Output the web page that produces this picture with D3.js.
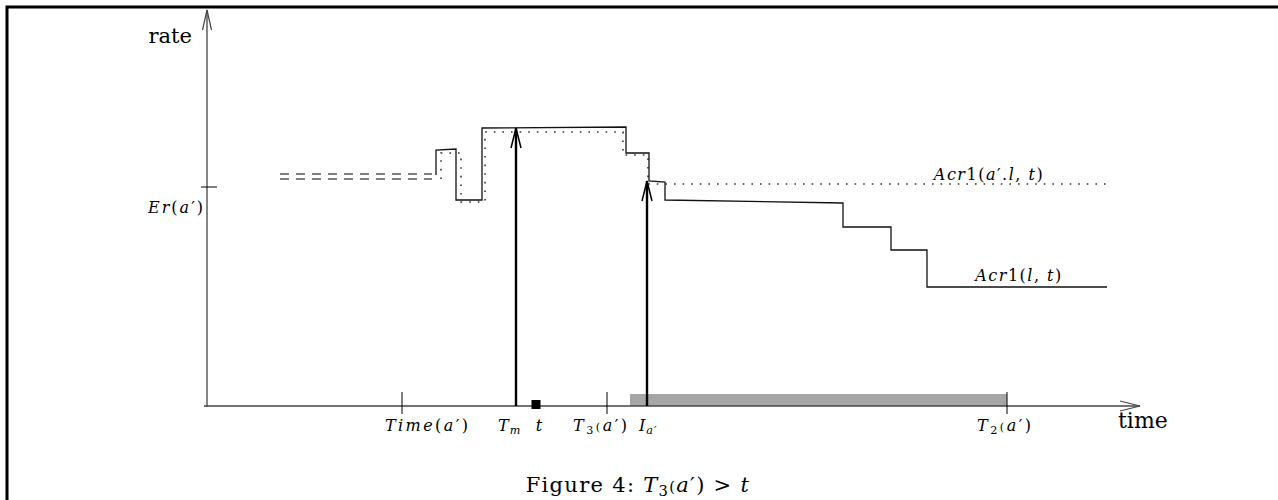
<!DOCTYPE html>
<html>
<head>
<meta charset="utf-8">
<script src="https://cdn.jsdelivr.net/npm/d3@7"></script>
<style>
  body { margin: 0; background: #fff; }
  svg text { font-family: "DejaVu Serif", "Liberation Serif", serif; }
  .mi { font-style: italic; }
</style>
</head>
<body>
<div id="chart"></div>
<script>
// step curve of Acr1(l,t) : [time, rate]
const solidSteps = [[229,231],[229,256],[249,257],[249,206],[275,206],[275,278],[419,279],[419,253],
  [442,253],[442,225],[458,224],[458,206],[636,203],[636,179],[684,179],[684,156],[720,156],[720,119],[900,119]];
// dotted curve of Acr1(a'.l,t)
const dottedSteps = [[234,227],[234,253],[254,253],[254,204],[278,204],[278,274],[416,274],[416,251],
  [441,251],[441,222],[903,222]];
// the double dashed run before the curves
const dashedStart = 73, dashedEnd = 225;
const dashedLevels = [232, 227];
const erLevel = 219;
// vertical arrows : [time, top rate]
const arrows = [[309, 278], [440, 225]];
const tickTimes = [195, 400, 800];
const markTime = 329;
const bandRange = [423, 800];
const bandHeight = 12;
const xMax = 933, yMax = 396;

const width = 1278, height = 500;
const svg = d3.select("#chart").append("svg")
  .attr("width", width).attr("height", height);

const x = d3.scaleLinear().domain([0, 933]).range([207, 1140]);
const y = d3.scaleLinear().domain([0, 400]).range([406, 6]);

// frame
svg.append("path")
  .attr("d", "M7,500 V7 H1278")
  .attr("fill", "none").attr("stroke", "#000").attr("stroke-width", 3);

// grey band
svg.append("rect")
  .attr("x", x(bandRange[0])).attr("y", y(bandHeight))
  .attr("width", x(bandRange[1]) - x(bandRange[0]))
  .attr("height", y(0) - y(bandHeight))
  .attr("fill", "#a6a6a6");

// axes
const axisColor = "#444";
svg.append("line").attr("x1", x(-3)).attr("x2", x(xMax)).attr("y1", y(0)).attr("y2", y(0))
  .attr("stroke", axisColor).attr("stroke-width", 1.3);
svg.append("path")
  .attr("d", `M${x(xMax) - 20},${y(0) - 5} L${x(xMax)},${y(0)} L${x(xMax) - 20},${y(0) + 5}`)
  .attr("fill", "none").attr("stroke", axisColor).attr("stroke-width", 1.2);
svg.append("line").attr("x1", x(0)).attr("x2", x(0)).attr("y1", y(-1)).attr("y2", y(yMax))
  .attr("stroke", axisColor).attr("stroke-width", 1.3);
svg.append("path")
  .attr("d", `M${x(0) - 4.5},${y(yMax) + 20} L${x(0)},${y(yMax)} L${x(0) + 4.5},${y(yMax) + 20}`)
  .attr("fill", "none").attr("stroke", axisColor).attr("stroke-width", 1.2);

// Er(a') tick
svg.append("line").attr("x1", x(-6)).attr("x2", x(10)).attr("y1", y(erLevel)).attr("y2", y(erLevel))
  .attr("stroke", "#000").attr("stroke-width", 1);

// x ticks
svg.selectAll(".xtick").data(tickTimes).enter().append("line")
  .attr("x1", d => x(d)).attr("x2", d => x(d))
  .attr("y1", y(14)).attr("y2", y(-8))
  .attr("stroke", "#000").attr("stroke-width", 1);

// dashed double line
svg.selectAll(".dash").data(dashedLevels).enter().append("line")
  .attr("x1", x(dashedStart)).attr("x2", x(dashedEnd))
  .attr("y1", d => y(d)).attr("y2", d => y(d))
  .attr("stroke", "#555").attr("stroke-width", 1.3)
  .attr("stroke-dasharray", "9,7");

const line = d3.line().x(d => x(d[0])).y(d => y(d[1]));

svg.append("path").datum(dottedSteps)
  .attr("d", line).attr("fill", "none")
  .attr("stroke", "#333").attr("stroke-width", 1.6)
  .attr("stroke-dasharray", "1.6,7");

svg.append("path").datum(solidSteps)
  .attr("d", line).attr("fill", "none")
  .attr("stroke", "#111").attr("stroke-width", 1.3);

// vertical arrows
arrows.forEach(a => {
  svg.append("line").attr("x1", x(a[0])).attr("x2", x(a[0]))
    .attr("y1", y(0)).attr("y2", y(a[1]))
    .attr("stroke", "#000").attr("stroke-width", 2.4);
  svg.append("path")
    .attr("d", `M${x(a[0]) - 5},${y(a[1]) + 20} L${x(a[0])},${y(a[1])} L${x(a[0]) + 5},${y(a[1]) + 20}`)
    .attr("fill", "none").attr("stroke", "#000").attr("stroke-width", 1.5);
});

// t marker
svg.append("rect")
  .attr("x", x(markTime) - 4.5).attr("y", y(6))
  .attr("width", 9).attr("height", 9).attr("fill", "#000");

// labels
svg.append("text").attr("x", 192).attr("y", 43).attr("text-anchor", "end")
  .style("font-size", "21px").text("rate");
svg.append("text").attr("x", 1118).attr("y", 428)
  .style("font-size", "22px").text("time");

function mathLabel(px, py, size, spacing, parts, anchor) {
  const t = svg.append("text").attr("x", px).attr("y", py)
    .attr("text-anchor", anchor || "middle")
    .style("font-size", size + "px")
    .style("letter-spacing", spacing + "px");
  parts.forEach(p => {
    const s = t.append("tspan").text(p.t);
    if (p.i) s.attr("class", "mi");
    if (p.sub) s.attr("dy", p.sub).style("font-size", (size * 0.7) + "px");
  });
  return t;
}

mathLabel(205, 213, 16, 2, [{t: "Er", i: 1}, {t: "("}, {t: "a", i: 1}, {t: "′)"}], "end");
mathLabel(x(tickTimes[0]) - 17, 431, 16, 2.4, [{t: "Time", i: 1}, {t: "("}, {t: "a", i: 1}, {t: "′)"}], "start");
mathLabel(498, 431, 16, 1, [{t: "T", i: 1}, {t: "m", i: 1, sub: 3}], "start");
mathLabel(539, 431, 16, 0, [{t: "t", i: 1}]);
mathLabel(x(tickTimes[1]) - 34, 431, 16, 2.5, [{t: "T", i: 1}, {t: "3", sub: 3}, {t: "(", sub: -3}, {t: "a", i: 1}, {t: "′)"}], "start");
mathLabel(639, 431, 16, 1, [{t: "I", i: 1}, {t: "a′", i: 1, sub: 3}], "start");
mathLabel(x(tickTimes[2]) - 30, 431, 16, 2.5, [{t: "T", i: 1}, {t: "2", sub: 3}, {t: "(", sub: -3}, {t: "a", i: 1}, {t: "′)"}], "start");
mathLabel(989, 180, 16, 1.5, [{t: "Acr", i: 1}, {t: "1("}, {t: "a", i: 1}, {t: "′."}, {t: "l", i: 1}, {t: ", "}, {t: "t", i: 1}, {t: ")"}]);
mathLabel(1019, 281, 16, 1.5, [{t: "Acr", i: 1}, {t: "1("}, {t: "l", i: 1}, {t: ", "}, {t: "t", i: 1}, {t: ")"}]);

mathLabel(638, 492, 21, 1.3, [{t: "Figure 4:  "}, {t: "T", i: 1}, {t: "3", sub: 4}, {t: "(", sub: -4}, {t: "a", i: 1}, {t: "′) > "}, {t: "t", i: 1}]);
</script>
</body>
</html>
